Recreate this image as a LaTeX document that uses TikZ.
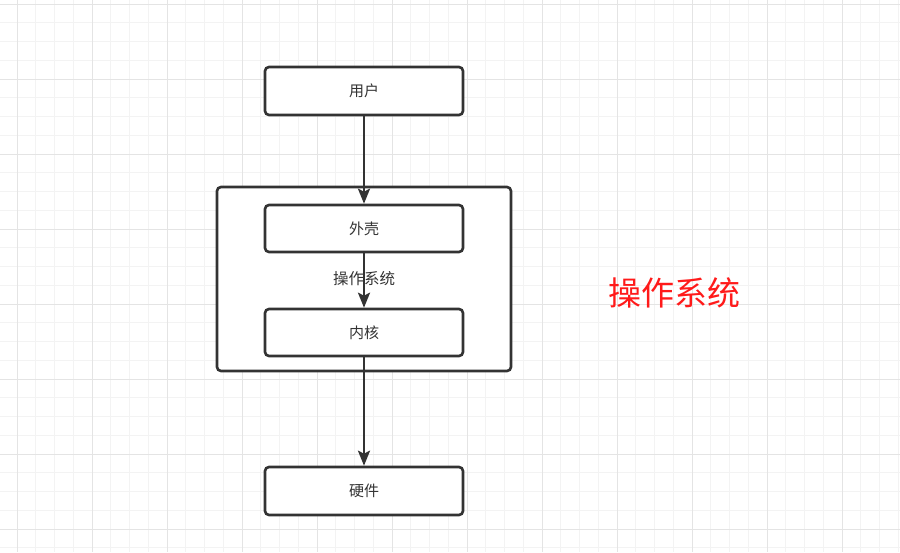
\documentclass[tikz,border=0pt]{standalone}
\usepackage{fontspec}
\setmainfont{Noto Sans CJK SC}
\usetikzlibrary{arrows.meta}
\definecolor{ink}{HTML}{333333}
\definecolor{gridminor}{HTML}{F3F3F3}
\definecolor{gridmajor}{HTML}{E4E4E4}
\definecolor{redtext}{HTML}{FF1A1A}
\tikzset{
  box/.style={draw=ink, line width=2.6pt, rounded corners=4pt, fill=white,
    minimum width=198pt, minimum height=47pt, inner sep=0pt,
    text=ink, font=\fontsize{15}{17}\selectfont},
  container/.style={draw=ink, line width=2.6pt, rounded corners=4pt, fill=white,
    minimum width=294pt, minimum height=184pt, inner sep=0pt,
    text=ink, font=\fontsize{15.5}{17}\selectfont},
  flow/.style={draw=ink, line width=2.6pt, -{Stealth[length=15pt,width=12pt,inset=3pt]}},
  bigred/.style={text=redtext, font=\fontsize{33}{37}\selectfont, inner sep=0pt}
}
\begin{document}
\begin{tikzpicture}[x=1pt,y=-1pt]
\useasboundingbox (0,0) rectangle (900,552);
\fill[white] (0,0) rectangle (900,552);
% grid
\foreach \i in {0,...,47} {
  \draw[gridminor, line width=1pt] ({17+18.75*\i},0) -- ({17+18.75*\i},552);
}
\foreach \j in {0,...,29} {
  \draw[gridminor, line width=1pt] (0,{4+18.75*\j}) -- (900,{4+18.75*\j});
}
\foreach \i in {0,...,11} {
  \draw[gridmajor, line width=1pt] ({17+75*\i},0) -- ({17+75*\i},552);
}
\foreach \j in {0,...,7} {
  \draw[gridmajor, line width=1pt] (0,{4+75*\j}) -- (900,{4+75*\j});
}
% nodes
\node[container] (os) at (364,279) {操作系统};
\node[box, minimum height=48pt] (user) at (364,91) {用户};
\node[box] (shell) at (364,228.5) {外壳};
\node[box] (kernel) at (364,332.5) {内核};
\node[box, minimum height=48pt] (hw) at (364,491) {硬件};
\node[bigred] (title) at (674,293) {操作系统};
% connectors
\draw[flow] (user.south) -- (shell.north);
\draw[flow] (shell.south) -- (kernel.north);
\draw[flow] (kernel.south) -- (hw.north);
\end{tikzpicture}
\end{document}
